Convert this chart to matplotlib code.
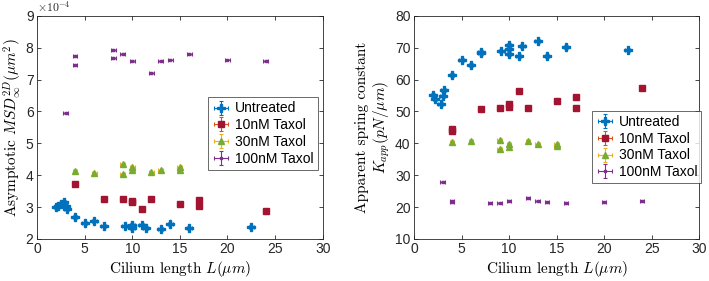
import numpy as np
import matplotlib
matplotlib.use("Agg")
import matplotlib.pyplot as plt

plt.rcParams["font.family"] = ["Liberation Sans", "DejaVu Sans"]
plt.rcParams["mathtext.fontset"] = "cm"

# --- data: asymptotic MSD (x1e-4 um^2) ---
untr_L = [2, 2.2, 2.5, 2.8, 3.0, 3.1, 4, 5, 6, 7, 9.2, 10, 10, 10, 11, 11.4, 13, 14, 16, 22.5]
untr_msd = [3.0, 3.05, 3.1, 3.15, 3.05, 2.95, 2.7, 2.5, 2.55, 2.42, 2.4, 2.4, 2.33, 2.45,
            2.45, 2.35, 2.3, 2.46, 2.35, 2.38]
t10_L = [4, 7, 9, 10, 10, 11, 12, 15, 17, 17, 24]
t10_msd = [3.73, 3.25, 3.24, 3.2, 3.17, 2.93, 3.24, 3.1, 3.23, 3.03, 2.88]
t30_L = [4, 6, 9, 9, 10, 10, 12, 13, 15, 15]
t30_msd = [4.12, 4.07, 4.35, 4.05, 4.27, 4.17, 4.1, 4.18, 4.25, 4.18]
t100_L = [3, 4, 4, 8, 8, 9, 10, 12, 13, 14, 16, 20, 24]
t100_msd = [5.95, 7.75, 7.45, 7.93, 7.67, 7.8, 7.57, 7.2, 7.57, 7.63, 7.8, 7.63, 7.57]

# --- data: apparent spring constant (pN/um) ---
untr_kL = [2, 2.2, 2.8, 3.0, 3.1, 4, 5, 6, 7, 7, 9.2, 10, 10, 10, 11, 11.4, 13, 14, 16, 22.5]
untr_k = [55.2, 53.8, 52.4, 54.8, 56.6, 61.3, 66.1, 64.7, 68.5, 68.8, 69.0, 71.0, 69.6, 68.0,
          67.4, 70.6, 72.0, 67.3, 70.2, 69.4]
t10_kL = [4, 4, 7, 9, 10, 10, 11, 12, 15, 17, 17, 24]
t10_k = [44.6, 44.0, 50.9, 51.1, 52.3, 51.5, 56.4, 51.0, 53.3, 54.4, 51.1, 57.5]
t30_kL = [4, 6, 9, 9, 10, 10, 12, 13, 15, 15]
t30_k = [40.5, 40.9, 41.0, 38.3, 39.9, 38.9, 40.7, 39.8, 39.9, 39.1]
t100_kL = [3, 4, 4, 8, 9, 10, 12, 13, 14, 16, 20, 24]
t100_k = [27.8, 22.0, 21.6, 21.2, 21.2, 21.8, 23.0, 21.8, 21.6, 21.2, 21.6, 21.8]

labels = ["Untreated", "10nM Taxol", "30nM Taxol", "100nM Taxol"]
# (marker color, errorbar color, marker, size)
styles = [("#0072BD", "#0072BD", "P", 5.5),
          ("#A2142F", "#D95319", "s", 4.5),
          ("#77AC30", "#EDB120", "^", 4.5),
          ("#7E2F8E", "#7E2F8E", "s", 2)]

fig = plt.figure(figsize=(7.09, 2.81), dpi=100)
ax1 = fig.add_axes([0.0522, 0.1495, 0.403, 0.794])
ax2 = fig.add_axes([0.584, 0.1495, 0.402, 0.794])


def draw(ax, series, xerr, yerr):
    for (x, y), lab, (mc, ec, mk, ms) in zip(series, labels, styles):
        ax.errorbar(x, y, xerr=xerr, yerr=yerr, fmt=mk, color=mc, ecolor=ec,
                    ms=ms, mec=mc, elinewidth=0.8, capsize=1.5, capthick=0.8,
                    label=lab)
    ax.set_xlim(0, 30)
    ax.set_xticks(range(0, 31, 5))
    ax.tick_params(direction="in", top=True, right=True, labelsize=10,
                   length=3, width=0.6, colors="#262626", pad=2.5)
    for s in ax.spines.values():
        s.set_linewidth(0.6)
        s.set_color("#262626")
    ax.set_xlabel(r"Cilium length $L(\mu m)$", family="cmr10", fontsize=11,
                  labelpad=2)


draw(ax1, [(untr_L, untr_msd), (t10_L, t10_msd), (t30_L, t30_msd), (t100_L, t100_msd)],
     0.25, 0.03)
ax1.set_ylim(2, 9)
ax1.set_ylabel(r"Asymptotic $MSD_{\infty}^{2D}(\mu m^2)$", family="cmr10", fontsize=11,
               labelpad=1)
ax1.text(0.0, 1.005, r"$\times10^{-4}$", transform=ax1.transAxes, fontsize=8.5,
         ha="left", va="bottom", color="#262626")
ax1.legend(loc="upper left", bbox_to_anchor=(0.60, 0.635), fontsize=10, frameon=True,
           fancybox=False, edgecolor="#262626", handlelength=1.2, handletextpad=0.4,
           borderpad=0.3, labelspacing=0.2, borderaxespad=0).get_frame().set_linewidth(0.6)

draw(ax2, [(untr_kL, untr_k), (t10_kL, t10_k), (t30_kL, t30_k), (t100_kL, t100_k)],
     0.25, 0.3)
ax2.set_ylim(10, 80)
ax2.set_ylabel("Apparent spring constant\n" + r"$K_{app}(pN/\mu m)$", family="cmr10",
               fontsize=11, labelpad=2)
ax2.legend(loc="upper left", bbox_to_anchor=(0.625, 0.575), fontsize=10, frameon=True,
           fancybox=False, edgecolor="#262626", handlelength=1.2, handletextpad=0.4,
           borderpad=0.3, labelspacing=0.2, borderaxespad=0).get_frame().set_linewidth(0.6)

fig.savefig("out.png", dpi=100)
